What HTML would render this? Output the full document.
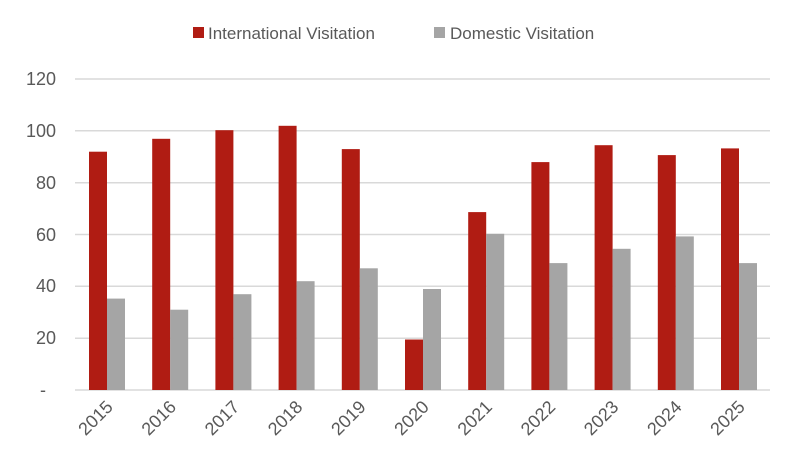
<!DOCTYPE html>
<html><head><style>body{margin:0;background:#fff}svg{display:block}text{font-family:"Liberation Sans",sans-serif;fill:#595959}</style></head><body>
<svg width="800" height="466" xmlns="http://www.w3.org/2000/svg">
<g stroke="#d9d9d9" stroke-width="1.5">
<line x1="75" x2="770" y1="79" y2="79"/><line x1="75" x2="770" y1="130.8" y2="130.8"/><line x1="75" x2="770" y1="182.7" y2="182.7"/><line x1="75" x2="770" y1="234.5" y2="234.5"/><line x1="75" x2="770" y1="286.3" y2="286.3"/><line x1="75" x2="770" y1="338.2" y2="338.2"/><line x1="75" x2="770" y1="390" y2="390"/>
</g>
<g font-size="18" text-anchor="end">
<text x="56" y="85">120</text><text x="56" y="137">100</text><text x="56" y="189">80</text><text x="56" y="241">60</text><text x="56" y="292">40</text><text x="56" y="344">20</text><text x="46" y="396">-</text>
</g>
<g fill="#b01c13">
<rect x="89" y="151.7" width="18" height="238.3"/>
<rect x="152.2" y="138.8" width="18" height="251.2"/>
<rect x="215.4" y="130.2" width="18" height="259.8"/>
<rect x="278.6" y="125.8" width="18" height="264.2"/>
<rect x="341.8" y="149.1" width="18" height="240.9"/>
<rect x="405" y="339.5" width="18" height="50.5"/>
<rect x="468.2" y="212.1" width="18" height="177.9"/>
<rect x="531.4" y="162.1" width="18" height="227.9"/>
<rect x="594.6" y="145.2" width="18" height="244.8"/>
<rect x="657.8" y="155.1" width="18" height="234.9"/>
<rect x="721" y="148.4" width="18" height="241.6"/>
</g>
<g fill="#a5a5a5">
<rect x="107" y="298.6" width="18" height="91.4"/>
<rect x="170.2" y="309.7" width="18" height="80.3"/>
<rect x="233.4" y="294.2" width="18" height="95.8"/>
<rect x="296.6" y="281.2" width="18" height="108.8"/>
<rect x="359.8" y="268.3" width="18" height="121.7"/>
<rect x="423" y="289" width="18" height="101"/>
<rect x="486.2" y="233.8" width="18" height="156.2"/>
<rect x="549.4" y="263.1" width="18" height="126.9"/>
<rect x="612.6" y="248.8" width="18" height="141.2"/>
<rect x="675.8" y="236.4" width="18" height="153.6"/>
<rect x="739" y="263.1" width="18" height="126.9"/>
</g>
<g font-size="18" text-anchor="end">
<text transform="translate(114,408) rotate(-45)">2015</text>
<text transform="translate(177.2,408) rotate(-45)">2016</text>
<text transform="translate(240.4,408) rotate(-45)">2017</text>
<text transform="translate(303.6,408) rotate(-45)">2018</text>
<text transform="translate(366.8,408) rotate(-45)">2019</text>
<text transform="translate(430,408) rotate(-45)">2020</text>
<text transform="translate(493.2,408) rotate(-45)">2021</text>
<text transform="translate(556.4,408) rotate(-45)">2022</text>
<text transform="translate(619.6,408) rotate(-45)">2023</text>
<text transform="translate(682.8,408) rotate(-45)">2024</text>
<text transform="translate(746,408) rotate(-45)">2025</text>
</g>
<rect x="193" y="27" width="11" height="11" fill="#b01c13"/><text x="208" y="39" font-size="17">International Visitation</text>
<rect x="434" y="27" width="11" height="11" fill="#a5a5a5"/><text x="450" y="39" font-size="17">Domestic Visitation</text>
</svg></body></html>
